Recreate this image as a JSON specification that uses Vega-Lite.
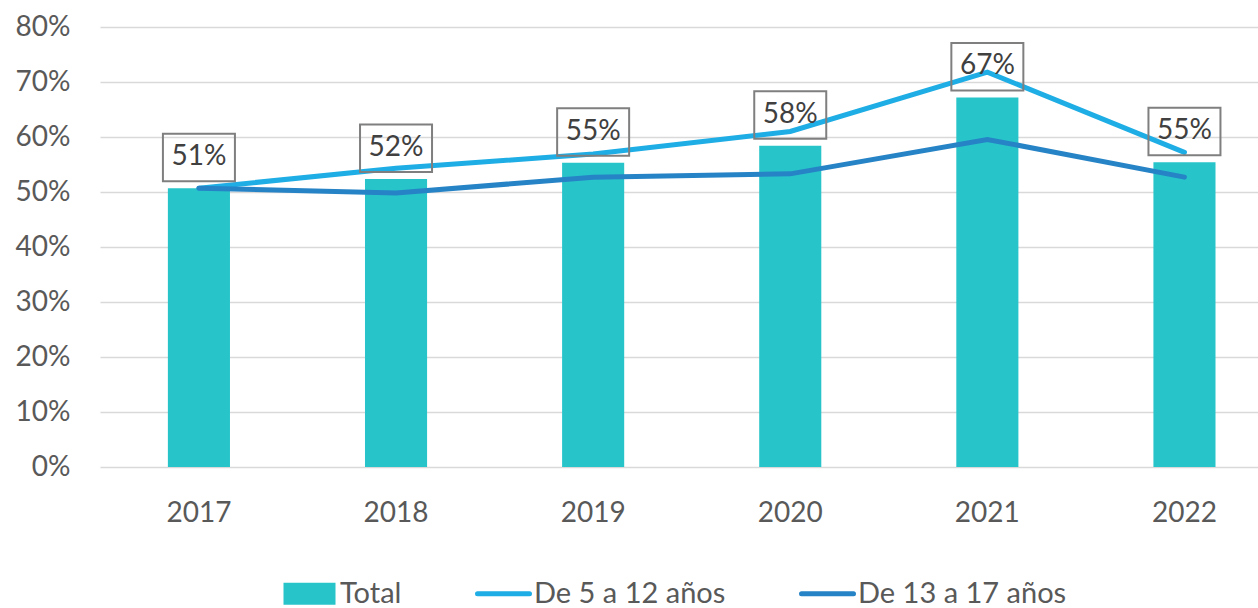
{
  "$schema": "https://vega.github.io/schema/vega-lite/v6.json",
  "width": 1158,
  "height": 440,
  "autosize": "none",
  "padding": {"left": 100, "top": 27, "right": 0, "bottom": 141},
  "background": "white",
  "config": {
    "view": {"stroke": null},
    "font": "Lato",
    "axis": {"labelFont": "Lato", "labelFontSize": 28, "labelColor": "#595959", "ticks": false, "domain": false, "title": null}
  },
  "data": {
    "values": [
      {"year": "2017", "series": "Total", "value": 0.5067},
      {"year": "2018", "series": "Total", "value": 0.5236},
      {"year": "2019", "series": "Total", "value": 0.553},
      {"year": "2020", "series": "Total", "value": 0.584},
      {"year": "2021", "series": "Total", "value": 0.672},
      {"year": "2022", "series": "Total", "value": 0.554},
      {"year": "2017", "series": "De 5 a 12 años", "value": 0.507},
      {"year": "2018", "series": "De 5 a 12 años", "value": 0.543},
      {"year": "2019", "series": "De 5 a 12 años", "value": 0.569},
      {"year": "2020", "series": "De 5 a 12 años", "value": 0.61},
      {"year": "2021", "series": "De 5 a 12 años", "value": 0.718},
      {"year": "2022", "series": "De 5 a 12 años", "value": 0.572},
      {"year": "2017", "series": "De 13 a 17 años", "value": 0.507},
      {"year": "2018", "series": "De 13 a 17 años", "value": 0.498},
      {"year": "2019", "series": "De 13 a 17 años", "value": 0.527},
      {"year": "2020", "series": "De 13 a 17 años", "value": 0.533},
      {"year": "2021", "series": "De 13 a 17 años", "value": 0.5956},
      {"year": "2022", "series": "De 13 a 17 años", "value": 0.527}
    ]
  },
  "encoding": {
    "x": {
      "field": "year", "type": "ordinal",
      "scale": {"paddingInner": 0.685, "paddingOuter": 0.28, "align": 0.615},
      "axis": {"labelAngle": 0, "labelPadding": 32, "grid": false}
    },
    "y": {
      "field": "value", "type": "quantitative",
      "scale": {"domain": [0, 0.8], "nice": false},
      "axis": {"format": ".0%", "values": [0, 0.1, 0.2, 0.3, 0.4, 0.5, 0.6, 0.7, 0.8], "grid": true, "gridColor": "#D9D9D9", "gridWidth": 1.5, "labelPadding": 30}
    }
  },
  "layer": [
    {
      "transform": [{"filter": "datum.series === 'Total'"}],
      "mark": {"type": "bar"},
      "encoding": {
        "color": {
          "field": "series", "type": "nominal",
          "scale": {"domain": ["Total", "De 5 a 12 años", "De 13 a 17 años"], "range": ["#27C5CA", "#1EADE4", "#2683C6"]},
          "legend": {
            "title": null, "orient": "none", "direction": "horizontal",
            "legendX": 195, "legendY": 552, "padding": 0,
            "labelFont": "Lato", "labelFontSize": 29, "labelColor": "#595959", "labelLimit": 400,
            "symbolSize": 2704, "labelOffset": 16, "columnPadding": 65,
            "encode": {
              "symbols": {
                "update": {
                  "shape": {"signal": "datum.value === 'Total' ? 'M-1,-0.42L1,-0.42L1,0.42L-1,0.42Z' : 'stroke'"},
                  "fill": {"signal": "datum.value === 'Total' ? scale('color', datum.value) : 'transparent'"},
                  "stroke": {"signal": "scale('color', datum.value)"},
                  "strokeWidth": {"signal": "datum.value === 'Total' ? 0 : 5"},
                  "strokeCap": {"value": "round"},
                  "opacity": {"value": 1}
                }
              }
            }
          }
        }
      }
    },
    {
      "transform": [{"filter": "datum.series !== 'Total'"}],
      "mark": {"type": "line", "strokeWidth": 5, "strokeCap": "round", "strokeJoin": "miter"},
      "encoding": {
        "color": {"field": "series", "type": "nominal"}
      }
    },
    {
      "transform": [{"filter": "datum.series === 'Total'"}],
      "mark": {"type": "point", "shape": "M-1,-1.514L1,-1.514L1,-0.194L-1,-0.194Z", "size": 5184, "filled": false, "fill": "white", "fillOpacity": 0, "stroke": "#7F7F7F", "strokeWidth": 2, "opacity": 1}
    },
    {
      "transform": [{"filter": "datum.series === 'Total'"}],
      "mark": {"type": "text", "dy": -31, "baseline": "middle", "fontSize": 28, "font": "Lato", "color": "#404040"},
      "encoding": {
        "text": {"field": "value", "type": "quantitative", "format": ".0%"}
      }
    }
  ]
}
